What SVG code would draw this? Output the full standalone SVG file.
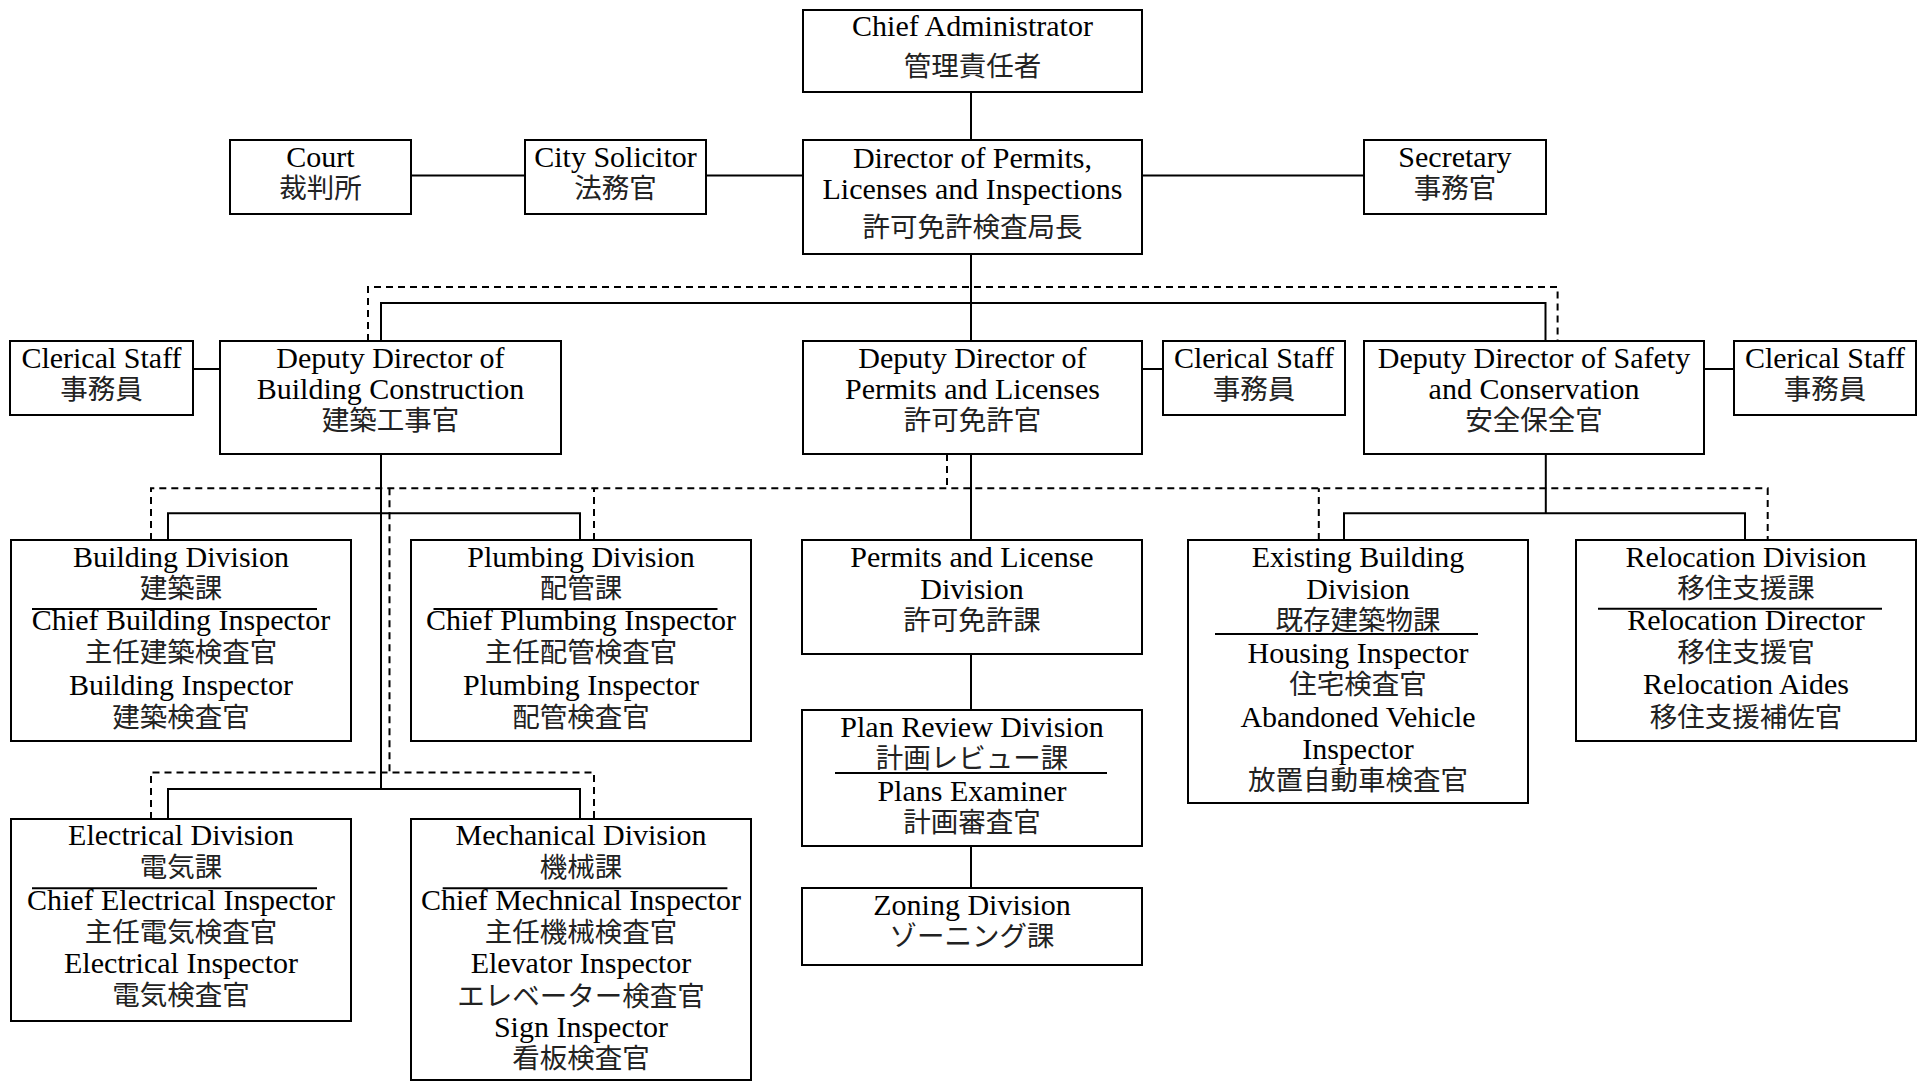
<svg xmlns="http://www.w3.org/2000/svg" width="1917" height="1082" viewBox="0 0 1917 1082">
<style>
rect.box{fill:#fff;stroke:#000;stroke-width:2}
.en{font-family:"Liberation Serif","Times New Roman",serif;font-size:30px;text-anchor:middle;fill:#000}
.ja{font-family:"Noto Sans CJK JP","Noto Sans CJK SC",sans-serif;font-size:27.5px;text-anchor:middle;fill:#222}
.sep{stroke:#000;stroke-width:2}
.solid{fill:none;stroke:#000;stroke-width:2}
.dash{fill:none;stroke:#000;stroke-width:2;stroke-dasharray:7 5}
</style>
<rect width="1917" height="1082" fill="#fff"/>
<g id="connectors">
<path class="solid" d="M971 92V140M411 175.5H525M706 175.5H803M1142 175.5H1364M971 254V341M381 341V303H1545.5V341M193 369H220M1142 369H1163M1704 369H1734M381 454V789M168 540V513.3H580V540M168 819V789H580V819M971 454V540M971 654V710M971 846V888M1545.8 454V513.3M1344 540V513.3H1745V540"/>
<path class="dash" d="M368 341V287H1557.6V341M947 454V488.3M151 540V488.3H1767.7V540M594 540V488.3M1318.8 540V488.3M389.5 488.3V772.5M151 819V772.5H594V819"/>
</g>
<g id="chief"><rect class="box" x="803" y="10" width="339" height="82"/><text class="en" x="972.5" y="36">Chief Administrator</text><text class="ja" x="972.5" y="76">管理責任者</text></g>
<g id="court"><rect class="box" x="230" y="140" width="181" height="74"/><text class="en" x="320.5" y="167">Court</text><text class="ja" x="320.5" y="198">裁判所</text></g>
<g id="solicitor"><rect class="box" x="525" y="140" width="181" height="74"/><text class="en" x="615.5" y="167">City Solicitor</text><text class="ja" x="615.5" y="198">法務官</text></g>
<g id="director"><rect class="box" x="803" y="140" width="339" height="114"/><text class="en" x="972.5" y="168">Director of Permits,</text><text class="en" x="972.5" y="199">Licenses and Inspections</text><text class="ja" x="972.5" y="237">許可免許検査局長</text></g>
<g id="secretary"><rect class="box" x="1364" y="140" width="182" height="74"/><text class="en" x="1455" y="167">Secretary</text><text class="ja" x="1455" y="198">事務官</text></g>
<g id="clerical1"><rect class="box" x="10" y="341" width="183" height="74"/><text class="en" x="101.5" y="368">Clerical Staff</text><text class="ja" x="101.5" y="399">事務員</text></g>
<g id="deputyBuilding"><rect class="box" x="220" y="341" width="341" height="113"/><text class="en" x="390.5" y="368">Deputy Director of</text><text class="en" x="390.5" y="399">Building Construction</text><text class="ja" x="390.5" y="430">建築工事官</text></g>
<g id="deputyPermits"><rect class="box" x="803" y="341" width="339" height="113"/><text class="en" x="972.5" y="368">Deputy Director of</text><text class="en" x="972.5" y="399">Permits and Licenses</text><text class="ja" x="972.5" y="430">許可免許官</text></g>
<g id="clerical2"><rect class="box" x="1163" y="341" width="182" height="74"/><text class="en" x="1254" y="368">Clerical Staff</text><text class="ja" x="1254" y="399">事務員</text></g>
<g id="deputySafety"><rect class="box" x="1364" y="341" width="340" height="113"/><text class="en" x="1534" y="368">Deputy Director of Safety</text><text class="en" x="1534" y="399">and Conservation</text><text class="ja" x="1534" y="430">安全保全官</text></g>
<g id="clerical3"><rect class="box" x="1734" y="341" width="182" height="74"/><text class="en" x="1825" y="368">Clerical Staff</text><text class="ja" x="1825" y="399">事務員</text></g>
<g id="buildingDivision"><rect class="box" x="11" y="540" width="340" height="201"/><text class="en" x="181" y="567">Building Division</text><text class="ja" x="181" y="598">建築課</text><line class="sep" x1="32" y1="609" x2="317" y2="609"/><text class="en" x="181" y="630">Chief Building Inspector</text><text class="ja" x="181" y="662">主任建築検査官</text><text class="en" x="181" y="695">Building Inspector</text><text class="ja" x="181" y="727">建築検査官</text></g>
<g id="plumbingDivision"><rect class="box" x="411" y="540" width="340" height="201"/><text class="en" x="581" y="567">Plumbing Division</text><text class="ja" x="581" y="598">配管課</text><line class="sep" x1="433.5" y1="609" x2="717.5" y2="609"/><text class="en" x="581" y="630">Chief Plumbing Inspector</text><text class="ja" x="581" y="662">主任配管検査官</text><text class="en" x="581" y="695">Plumbing Inspector</text><text class="ja" x="581" y="727">配管検査官</text></g>
<g id="permitsDivision"><rect class="box" x="802" y="540" width="340" height="114"/><text class="en" x="972" y="567">Permits and License</text><text class="en" x="972" y="598.5">Division</text><text class="ja" x="972" y="630">許可免許課</text></g>
<g id="planReviewDivision"><rect class="box" x="802" y="710" width="340" height="136"/><text class="en" x="972" y="737">Plan Review Division</text><text class="ja" x="972" y="768">計画レビュー課</text><line class="sep" x1="835" y1="773" x2="1107" y2="773"/><text class="en" x="972" y="801">Plans Examiner</text><text class="ja" x="972" y="832">計画審査官</text></g>
<g id="zoningDivision"><rect class="box" x="802" y="888" width="340" height="77"/><text class="en" x="972" y="915">Zoning Division</text><text class="ja" x="972" y="946">ゾーニング課</text></g>
<g id="existingBuildingDivision"><rect class="box" x="1188" y="540" width="340" height="263"/><text class="en" x="1358" y="567">Existing Building</text><text class="en" x="1358" y="598.5">Division</text><text class="ja" x="1358" y="630">既存建築物課</text><line class="sep" x1="1215" y1="634" x2="1478" y2="634"/><text class="en" x="1358" y="663">Housing Inspector</text><text class="ja" x="1358" y="694">住宅検査官</text><text class="en" x="1358" y="727">Abandoned Vehicle</text><text class="en" x="1358" y="758.5">Inspector</text><text class="ja" x="1358" y="790">放置自動車検査官</text></g>
<g id="relocationDivision"><rect class="box" x="1576" y="540" width="340" height="201"/><text class="en" x="1746" y="567">Relocation Division</text><text class="ja" x="1746" y="598">移住支援課</text><line class="sep" x1="1598" y1="608.7" x2="1882" y2="608.7"/><text class="en" x="1746" y="630">Relocation Director</text><text class="ja" x="1746" y="662">移住支援官</text><text class="en" x="1746" y="694">Relocation Aides</text><text class="ja" x="1746" y="727">移住支援補佐官</text></g>
<g id="electricalDivision"><rect class="box" x="11" y="819" width="340" height="202"/><text class="en" x="181" y="845">Electrical Division</text><text class="ja" x="181" y="877">電気課</text><line class="sep" x1="32" y1="888.3" x2="317" y2="888.3"/><text class="en" x="181" y="910">Chief Electrical Inspector</text><text class="ja" x="181" y="942">主任電気検査官</text><text class="en" x="181" y="973">Electrical Inspector</text><text class="ja" x="181" y="1005">電気検査官</text></g>
<g id="mechanicalDivision"><rect class="box" x="411" y="819" width="340" height="261"/><text class="en" x="581" y="845">Mechanical Division</text><text class="ja" x="581" y="877">機械課</text><line class="sep" x1="442.7" y1="888.3" x2="727.4" y2="888.3"/><text class="en" x="581" y="910">Chief Mechnical Inspector</text><text class="ja" x="581" y="942">主任機械検査官</text><text class="en" x="581" y="973">Elevator Inspector</text><text class="ja" x="581" y="1006">エレベーター検査官</text><text class="en" x="581" y="1037">Sign Inspector</text><text class="ja" x="581" y="1068">看板検査官</text></g>
</svg>
